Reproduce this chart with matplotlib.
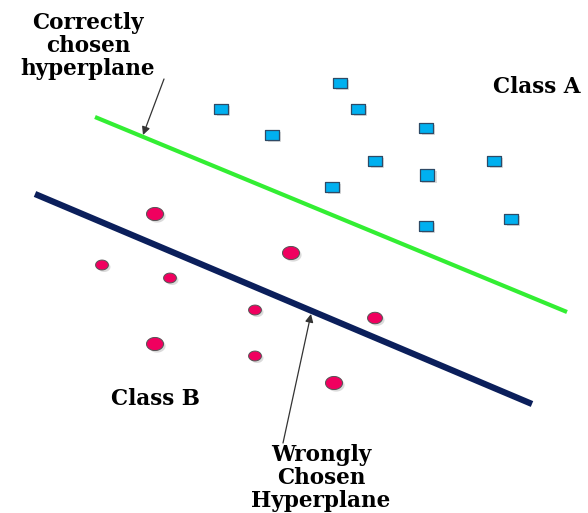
import numpy as np
import matplotlib
matplotlib.use("Agg")
import matplotlib.pyplot as plt
import matplotlib.patheffects as pe

# Class A points (squares)
a_x = [340, 221, 358, 272, 426, 375, 427, 494, 332, 426, 511]
a_y = [83, 109, 109, 135, 128, 161, 175, 161, 187, 226, 219]
a_size = [88, 88, 88, 88, 88, 88, 115, 88, 88, 88, 88]

# Class B points (circles)
b_x = [155, 291, 102, 170, 255, 375, 155, 255, 334]
b_y = [214, 253, 265, 278, 310, 318, 344, 356, 383]
b_size = [150, 150, 85, 85, 85, 115, 150, 85, 150]

# Hyperplanes
good_x = [95, 567]
good_y = [117, 312]
bad_x = [35, 532]
bad_y = [194, 404]

fig = plt.figure(figsize=(5.88, 5.13), dpi=100)
ax = fig.add_axes([0, 0, 1, 1])
ax.set_xlim(0, 588)
ax.set_ylim(513, 0)
ax.axis("off")

ax.plot(good_x, good_y, color="#33EE33", lw=3.0, solid_capstyle="butt", zorder=2)
ax.plot(bad_x, bad_y, color="#0B1F5B", lw=4.5, solid_capstyle="butt", zorder=2)

rect = [(-1.3, -1), (1.3, -1), (1.3, 1), (-1.3, 1), (-1.3, -1)]
t = np.linspace(0, 2 * np.pi, 60)
ell = list(zip(1.3 * np.cos(t), np.sin(t)))

shadow = [pe.SimplePatchShadow(offset=(1.5, -1.5), shadow_rgbFace="#999999", alpha=0.35), pe.Normal()]
sa = ax.scatter(a_x, a_y, s=a_size, marker=rect, facecolor="#00B0F0", edgecolor="#2E4A66",
                linewidths=0.9, zorder=3)
sa.set_path_effects(shadow)
sb = ax.scatter(b_x, b_y, s=b_size, marker=ell, facecolor="#F0005F", edgecolor="#555555",
                linewidths=0.7, zorder=3)
sb.set_path_effects(shadow)

font = dict(family="DejaVu Serif", fontweight="bold", fontsize=15.5, color="black")
ax.text(88, 46, "Correctly\nchosen\nhyperplane", ha="center", va="center", linespacing=1.08, **font)
ax.text(537, 87, "Class A", ha="center", va="center", **font)
ax.text(155, 399, "Class B", ha="center", va="center", **font)
ax.text(321, 478, "Wrongly\nChosen\nHyperplane", ha="center", va="center", linespacing=1.04, **font)

ax.annotate("", xy=(143, 135), xytext=(164, 79),
            arrowprops=dict(arrowstyle="-|>", color="#333333", lw=0.9, mutation_scale=12,
                            shrinkA=0, shrinkB=0))
ax.annotate("", xy=(311, 314), xytext=(283, 443),
            arrowprops=dict(arrowstyle="-|>", color="#333333", lw=0.9, mutation_scale=12,
                            shrinkA=0, shrinkB=0))

fig.savefig("out.png", dpi=100, facecolor="white")
